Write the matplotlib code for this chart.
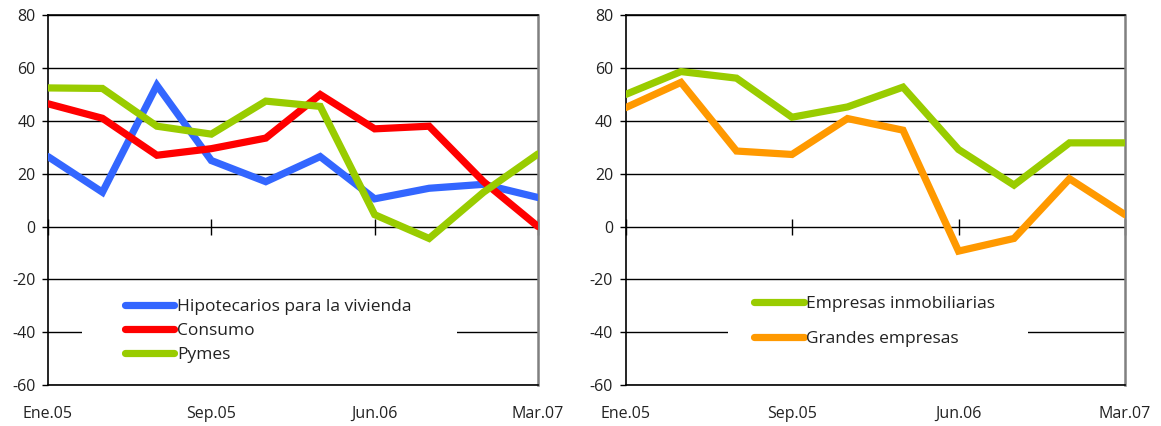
import matplotlib
matplotlib.use("Agg")
import matplotlib.pyplot as plt
from matplotlib.patches import Rectangle

# ---- data ----
periods = list(range(10))
tick_positions = [0, 3, 6, 9]
tick_labels = ["Ene.05", "Sep.05", "Jun.06", "Mar.07"]

hipotecarios = [26.5, 13, 53.5, 25, 17, 26.5, 10.5, 14.5, 16, 11]
consumo = [46.5, 41, 27, 29.5, 33.5, 50, 37, 38, 17, 0]
pymes = [52.5, 52.3, 38, 35, 47.5, 45.5, 4.5, -4.5, 13, 27.5]

inmobiliarias = [50, 58.7, 56.2, 41.4, 45.3, 52.8, 29.2, 15.7, 31.7, 31.7]
grandes = [45, 54.6, 28.6, 27.3, 40.9, 36.5, -9.3, -4.5, 18.1, 4.5]

left_series = [("Hipotecarios para la vivienda", hipotecarios, "#3366FF"),
               ("Consumo", consumo, "#FF0000"),
               ("Pymes", pymes, "#99CC00")]
right_series = [("Empresas inmobiliarias", inmobiliarias, "#99CC00"),
                ("Grandes empresas", grandes, "#FF9900")]

yticks = [-60, -40, -20, 0, 20, 40, 60, 80]

plt.rcParams['font.family'] = ['Open Sans', 'DejaVu Sans']
TXT = "#222222"

W, H = 1161, 426
fig = plt.figure(figsize=(W / 100, H / 100), dpi=100)

def px_axes(x0, x1, ytop, ybot):
    return [x0 / W, (H - ybot) / H, (x1 - x0) / W, (ybot - ytop) / H]

ax1 = fig.add_axes(px_axes(48, 538, 15.3, 385))
ax2 = fig.add_axes(px_axes(625.5, 1125, 15.3, 385))


def style(ax, series, leg_rect, leg_anchor, labelspacing):
    ax.set_xlim(0, 9)
    ax.set_ylim(-60, 80)
    ax.set_yticks(yticks)
    ax.set_yticklabels([str(v) for v in yticks])
    ax.set_axisbelow(True)
    ax.yaxis.grid(True, color="black", linewidth=1.0)
    ax.xaxis.grid(False)
    ax.tick_params(axis='y', direction='out', length=4, width=1, color='black',
                   pad=5, labelsize=11.5, labelcolor=TXT)
    ax.set_xticks(tick_positions)
    ax.set_xticklabels(tick_labels)
    ax.tick_params(axis='x', length=0, pad=15, labelsize=11.5, labelcolor=TXT)
    for s in ['left', 'bottom', 'top']:
        ax.spines[s].set_color('black')
        ax.spines[s].set_linewidth(1.2)
    ax.spines['right'].set_color('#808080')
    ax.spines['right'].set_linewidth(1.8)

    # axis with tick marks along zero line
    sec = ax.secondary_xaxis((0 - (-60)) / 140)
    sec.set_xticks(tick_positions)
    sec.tick_params(direction='inout', length=11, width=1, color='black',
                    labelbottom=False, labeltop=False)
    sec.spines['bottom'].set_visible(False)
    sec.spines['top'].set_visible(False)

    for label, vals, col in series:
        ax.plot(periods, vals, color=col, linewidth=5.2, label=label,
                solid_joinstyle='miter', solid_capstyle='round', zorder=3)

    ax.add_patch(Rectangle(leg_rect[0], leg_rect[1], leg_rect[2],
                           transform=ax.transAxes, facecolor='white',
                           edgecolor='none', zorder=1.5))
    leg = ax.legend(loc='upper left', bbox_to_anchor=leg_anchor,
                    frameon=False, fontsize=12.5, handlelength=2.85,
                    handletextpad=0.15, labelspacing=labelspacing,
                    borderpad=0, borderaxespad=0)
    for t in leg.get_texts():
        t.set_color(TXT)


style(ax1, left_series, ((34 / 490, 0.05), 375 / 490, 0.21),
      (77 / 490, (385 - 298.5) / 369.7), 0.46)
style(ax2, right_series, ((103 / 500, 0.05), 300 / 500, 0.23),
      (129 / 500, (385 - 295.5) / 369.7), 1.1)

fig.savefig("out.png", dpi=100)
